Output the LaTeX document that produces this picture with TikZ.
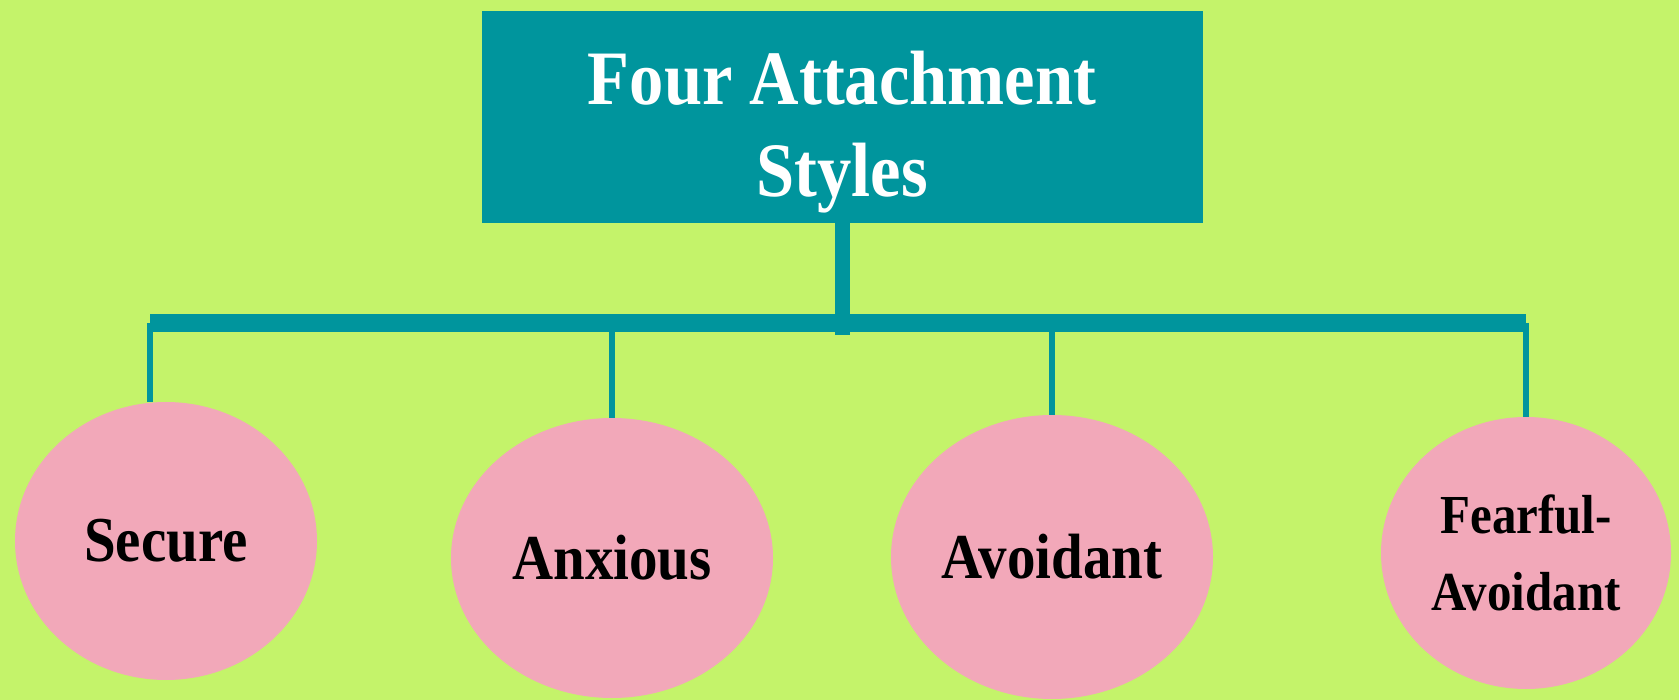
\documentclass[tikz,border=0pt]{standalone}
\usepackage{fontspec}
\setmainfont{Liberation Serif}[FakeStretch=0.89]
\usepackage{xcolor}
\definecolor{colBg}{RGB}{196,243,106}
\definecolor{colTeal}{RGB}{0,149,157}
\definecolor{colPink}{RGB}{242,168,185}
\usetikzlibrary{positioning, shapes.geometric}
\tikzset{
	titlebox/.style={fill=colTeal, minimum width=721, minimum height=212},
	titletext/.style={align=center, text=white, font=\fontsize{77}{92}\selectfont\bfseries},
	stylecirc/.style={ellipse, fill=colPink, inner sep=0pt, align=center, font=\fontsize{64}{75}\selectfont\bfseries},
	stem/.style={colTeal, line width=15},
	bar/.style={colTeal, line width=18},
	drop/.style={colTeal, line width=6.5},
}

\begin{document}
\begin{tikzpicture}[x=1pt, y=-1pt]
		% Background
		\fill[colBg] (0,0) rectangle (1679,700);
		\useasboundingbox (0,0) rectangle (1679,700);

		% Title box
		\node[titlebox] (title) at (842,117) {};
		\node[titletext, yshift=-15] at (title.center) {Four Attachment\\Styles};

		% Attachment styles
		\node[stylecirc, minimum width=302, minimum height=278] (sec) at (166,541) {Secure};
		\node[stylecirc, minimum width=322, minimum height=280] (anx) at (612,558) {Anxious};
		\node[stylecirc, minimum width=322, minimum height=284] (avo) at (1052,557) {Avoidant};
		\node[stylecirc, minimum width=290, minimum height=272, font=\fontsize{55}{77}\selectfont\bfseries] (fear) at (1526,553) {Fearful-\\Avoidant};

		% Connectors
		\coordinate (bar) at (842,323);
		\draw[stem] (title.south) -- ([yshift=-12]title.south |- bar);
		\draw[bar] ([xshift=-16]sec.north |- bar) -- (fear.north |- bar);
		\draw[drop] ([xshift=-16]sec.north |- bar) -- ([xshift=-16]sec.north);
		\foreach \n in {anx, avo, fear}
			\draw[drop] (\n.north |- bar) -- (\n.north);
	\end{tikzpicture}
\end{document}
